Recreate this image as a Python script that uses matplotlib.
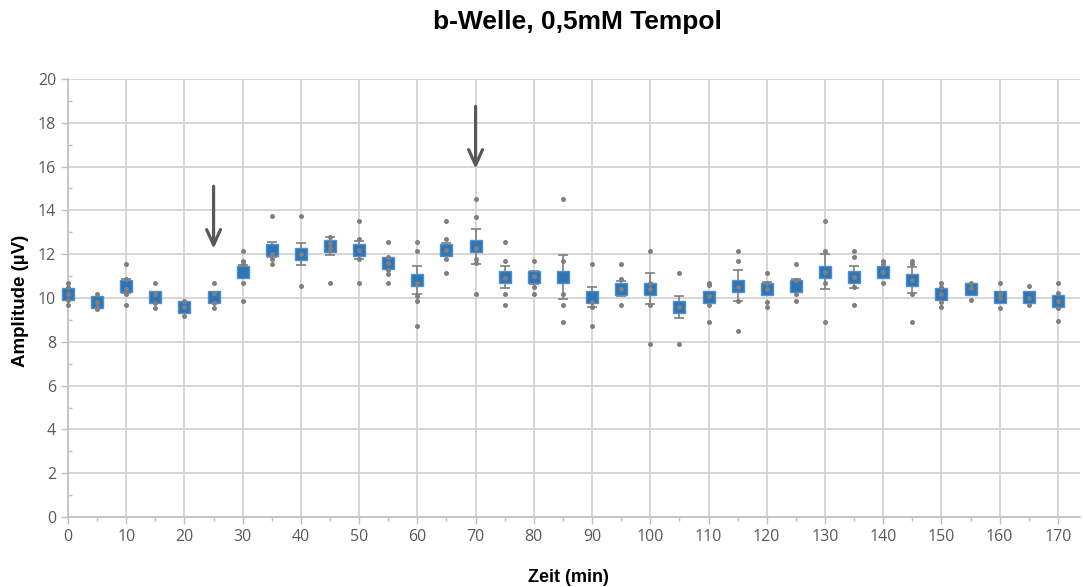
import matplotlib
matplotlib.use("Agg")
import matplotlib.pyplot as plt
from matplotlib.ticker import MultipleLocator

# Zeitpunkte (min)
zeit = list(range(0, 175, 5))

# Mittelwerte (blaue Quadrate)
mittel = [10.2, 9.8, 10.55, 10.03, 9.6, 10.03, 11.2, 12.2, 12.0, 12.37,
          12.2, 11.58, 10.82, 12.2, 12.37, 10.95, 10.95, 10.95, 10.03, 10.42,
          10.42, 9.57, 10.03, 10.56, 10.42, 10.56, 11.2, 10.95, 11.2, 10.82,
          10.18, 10.42, 10.03, 10.05, 9.85]

# Fehlerbalken (+/-)
fehler = [0.2, 0.15, 0.3, 0.2, 0.2, 0.2, 0.3, 0.35, 0.5, 0.4,
          0.4, 0.2, 0.65, 0.3, 0.8, 0.5, 0.3, 1.0, 0.45, 0.35,
          0.7, 0.5, 0.25, 0.7, 0.3, 0.3, 0.8, 0.5, 0.2, 0.6,
          0.2, 0.2, 0.2, 0.2, 0.2]

# Einzelwerte (graue Punkte) je Zeitpunkt
einzel = [
    [10.7, 10.5, 10.2, 9.9, 9.7],
    [10.2, 9.8, 9.6, 9.5],
    [11.55, 10.85, 10.4, 10.2, 9.7],
    [10.7, 10.2, 9.75, 9.55],
    [9.85, 9.6, 9.2],
    [10.7, 10.25, 9.75, 9.55],
    [12.15, 11.7, 11.55, 10.7, 9.85],
    [13.75, 12.0, 11.8, 11.55],
    [13.75, 12.0, 10.55],
    [12.8, 12.5, 12.3, 12.2, 10.7],
    [13.5, 12.7, 12.2, 11.8, 10.7],
    [12.55, 11.85, 11.6, 11.3, 11.1, 10.7],
    [12.55, 12.15, 10.7, 10.1, 9.85, 8.7],
    [13.5, 12.7, 12.2, 11.8, 11.15],
    [14.5, 13.7, 12.3, 11.8, 11.6, 10.2],
    [12.55, 11.7, 10.9, 10.2, 9.7],
    [11.7, 11.0, 10.5, 10.2],
    [14.5, 11.7, 10.2, 9.7, 8.9],
    [11.55, 9.8, 9.6, 8.7],
    [11.55, 10.85, 10.4, 9.7],
    [12.15, 10.7, 10.4, 9.7, 7.9],
    [11.15, 9.6, 7.9],
    [10.7, 10.6, 10.1, 9.7, 8.9],
    [12.15, 11.7, 10.5, 9.85, 8.5],
    [11.15, 10.7, 10.4, 9.8, 9.6],
    [11.55, 10.8, 10.2, 9.85],
    [13.5, 12.15, 11.2, 10.7, 8.9],
    [12.15, 11.85, 10.95, 10.5, 9.7],
    [11.7, 11.55, 11.2, 10.7],
    [11.7, 11.55, 10.8, 10.2, 8.9],
    [10.7, 10.5, 10.2, 9.8, 9.6],
    [10.7, 10.45, 9.9],
    [10.7, 10.2, 10.0, 9.55],
    [10.55, 10.0, 9.7],
    [10.7, 10.25, 9.85, 9.55, 8.95],
]

# Pfeile (Applikation)
pfeil_x = [25, 70]
pfeil_oben = [15.1, 18.75]
pfeil_spitze = [12.25, 15.9]

fig = plt.figure(figsize=(10.83, 5.87), dpi=100)
ax = fig.add_axes([68 / 1083, 70 / 587, 1012 / 1083, 438 / 587])

ax.errorbar(zeit, mittel, yerr=fehler, fmt='none', ecolor='#7f7f7f',
            elinewidth=1.2, capsize=3.5, capthick=1.2, zorder=2)
ax.plot(zeit, mittel, 's', color='#2e75b6', markeredgecolor='#4f8fcf',
        markersize=8, zorder=3, clip_on=False)

px, py = [], []
for t, werte in zip(zeit, einzel):
    px += [t] * len(werte)
    py += werte
ax.plot(px, py, 'o', color='#7f7f7f', markersize=3.6, markeredgewidth=0,
        zorder=5, clip_on=False)

for x, y0, y1 in zip(pfeil_x, pfeil_oben, pfeil_spitze):
    ax.annotate('', xy=(x, y1), xytext=(x, y0),
                arrowprops=dict(arrowstyle='->,head_length=1.1,head_width=0.5',
                                color='#595959', lw=2.3, mutation_scale=10,
                                shrinkA=0, shrinkB=0), zorder=6)

ax.set_xlim(0, 173.8)
ax.set_ylim(0, 20)
ax.xaxis.set_major_locator(MultipleLocator(10))
ax.xaxis.set_minor_locator(MultipleLocator(5))
ax.yaxis.set_major_locator(MultipleLocator(2))
ax.yaxis.set_minor_locator(MultipleLocator(1))

ax.grid(True, which='major', color='#d0d0d0', lw=1.2, zorder=0)
ax.set_axisbelow(True)
for s in ['top', 'right']:
    ax.spines[s].set_visible(False)
for s in ['left', 'bottom']:
    ax.spines[s].set_color('#bfbfbf')
    ax.spines[s].set_linewidth(1.2)

ax.tick_params(axis='both', which='major', colors='#bfbfbf', labelcolor='#595959',
               labelsize=11.5, length=5, width=1)
ax.tick_params(axis='x', which='minor', colors='#bfbfbf', length=3, width=1)
ax.tick_params(axis='y', which='minor', colors='#bfbfbf', length=3, width=1,
               direction='in')
for lab in ax.get_xticklabels() + ax.get_yticklabels():
    lab.set_family('Open Sans')

fig.text(0.533, 0.963, 'b-Welle, 0,5mM Tempol', ha='center', va='center',
         fontsize=19, fontweight='bold', family='Liberation Sans')
fig.text(0.019, 0.487, 'Amplitude (µV)', ha='center', va='center', rotation=90,
         fontsize=13.5, fontweight='bold', family='Liberation Sans')
fig.text(0.525, 0.017, 'Zeit (min)', ha='center', va='center',
         fontsize=13, fontweight='bold', family='Liberation Sans')

fig.savefig('out.png', dpi=100)
